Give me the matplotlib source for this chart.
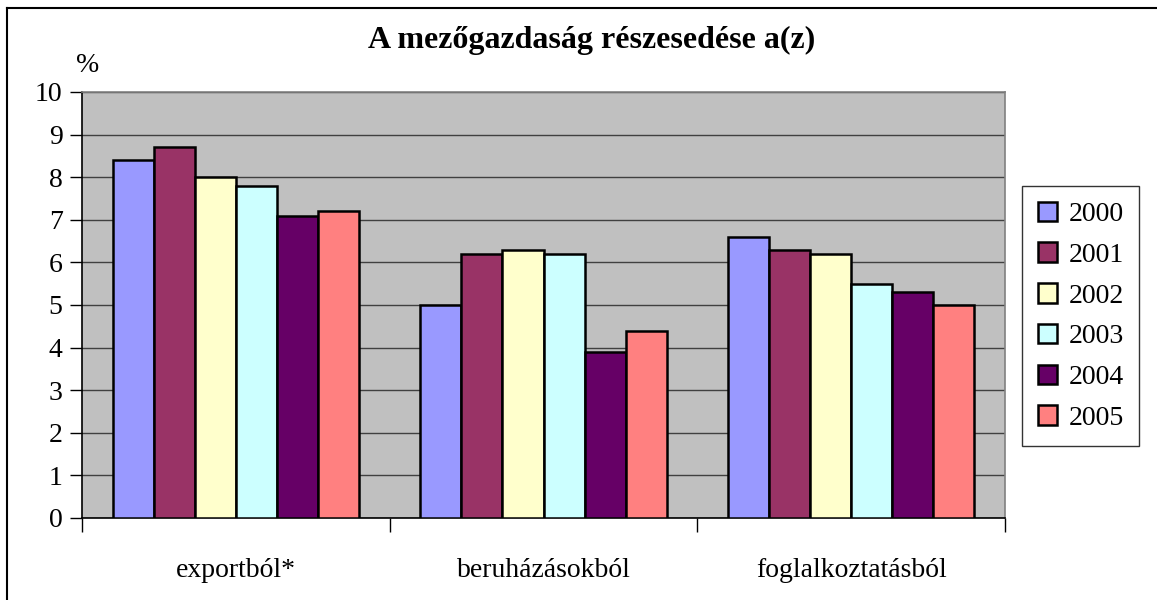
from matplotlib import pyplot as plt
from matplotlib.lines import Line2D
import numpy as np

plt.rcParams['font.family'] = ['Liberation Serif', 'DejaVu Serif']

# adatok
categories = ['exportból*', 'beruházásokból', 'foglalkoztatásból']
years = ['2000', '2001', '2002', '2003', '2004', '2005']
values = {
    '2000': [8.4, 5.0, 6.6],
    '2001': [8.7, 6.2, 6.3],
    '2002': [8.0, 6.3, 6.2],
    '2003': [7.8, 6.2, 5.5],
    '2004': [7.1, 3.9, 5.3],
    '2005': [7.2, 4.4, 5.0],
}
colors = ['#9999FF', '#993366', '#FFFFCC', '#CCFFFF', '#660066', '#FF8080']

fig = plt.figure(figsize=(11.57, 6), dpi=100)
ax = fig.add_axes([0.0709, 0.1367, 0.7977, 0.71])
ax.set_facecolor('#C0C0C0')

x = np.arange(len(categories))
w = 0.8 / len(years)
for i, y in enumerate(years):
    ax.bar(x - 0.4 + w * (i + 0.5), values[y], width=w, color=colors[i],
           edgecolor='black', linewidth=1.8, label=y, zorder=3)

ax.set_xlim(-0.5, len(categories) - 0.5)
ax.set_ylim(0, 10)
ax.set_yticks(range(0, 11))
ax.yaxis.grid(True, color='#404040', linewidth=1, zorder=0)
ax.tick_params(axis='y', labelsize=20, length=9, width=1, direction='out', pad=5)

ax.set_xticks(x)
ax.set_xticklabels(categories, fontsize=20)
ax.tick_params(axis='x', which='major', length=0, pad=29)
ax.set_xticks(np.arange(-0.5, len(categories)), minor=True)
ax.tick_params(axis='x', which='minor', length=10, width=1, direction='out')

for s in ['top', 'right']:
    ax.spines[s].set_color('#808080')
    ax.spines[s].set_linewidth(1.2)
for s in ['left', 'bottom']:
    ax.spines[s].set_color('black')
    ax.spines[s].set_linewidth(1.2)

fig.text(0.076, 0.89, '%', fontsize=20, ha='center', va='center')
fig.text(0.511, 0.933, 'A mezőgazdaság részesedése a(z)', fontsize=23,
         fontweight='bold', ha='center', va='center')

leg = fig.legend(loc='center', bbox_to_anchor=(0.934, 0.473), fontsize=20,
                 frameon=True, fancybox=False, edgecolor='black',
                 labelspacing=0.55, handlelength=0.7, handleheight=0.7,
                 handletextpad=0.4, borderpad=0.55)
leg.get_frame().set_linewidth(1)

# kulso keret (bal es felso el)
fig.add_artist(Line2D([7 / 1157, 7 / 1157], [0, 1 - 8 / 600], color='black', linewidth=1.5))
fig.add_artist(Line2D([7 / 1157, 1], [1 - 8 / 600, 1 - 8 / 600], color='black', linewidth=1.5))

fig.savefig('out.png', dpi=100)
